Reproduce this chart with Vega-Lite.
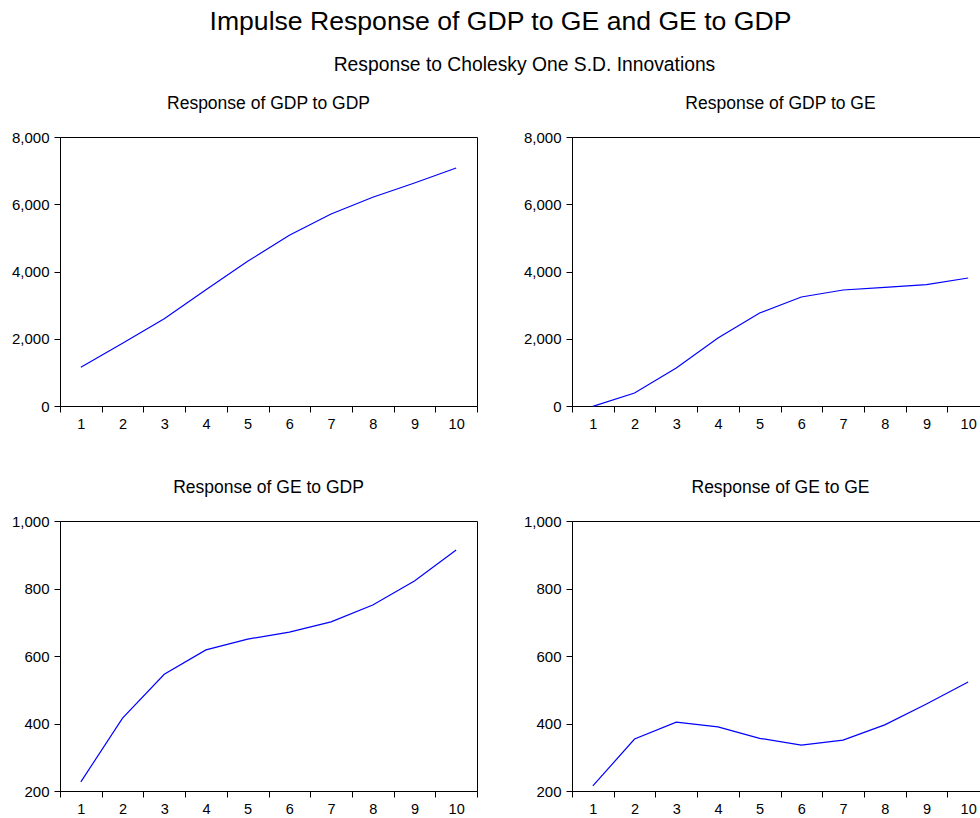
{
  "$schema": "https://vega.github.io/schema/vega-lite/v6.json",
  "padding": {"left": 10, "top": 9, "right": 0, "bottom": 0},
  "background": "white",
  "title": {"text": "Impulse Response of GDP to GE and GE to GDP", "fontSize": 26.6, "font": "Liberation Sans", "fontWeight": "normal", "color": "black", "anchor": "middle", "offset": 20},
  "datasets": {
    "gdp_gdp": [
      {"step": 1, "value": 1150}, {"step": 2, "value": 1865}, {"step": 3, "value": 2596}, {"step": 4, "value": 3459}, {"step": 5, "value": 4303},
      {"step": 6, "value": 5077}, {"step": 7, "value": 5710}, {"step": 8, "value": 6210}, {"step": 9, "value": 6632}, {"step": 10, "value": 7078}
    ],
    "gdp_ge": [
      {"step": 1, "value": -10}, {"step": 2, "value": 387}, {"step": 3, "value": 1130}, {"step": 4, "value": 2022}, {"step": 5, "value": 2766},
      {"step": 6, "value": 3242}, {"step": 7, "value": 3450}, {"step": 8, "value": 3530}, {"step": 9, "value": 3610}, {"step": 10, "value": 3807}
    ],
    "ge_gdp": [
      {"step": 1, "value": 227}, {"step": 2, "value": 416}, {"step": 3, "value": 546}, {"step": 4, "value": 618}, {"step": 5, "value": 650},
      {"step": 6, "value": 671}, {"step": 7, "value": 701}, {"step": 8, "value": 751}, {"step": 9, "value": 822}, {"step": 10, "value": 914}
    ],
    "ge_ge": [
      {"step": 1, "value": 215}, {"step": 2, "value": 354}, {"step": 3, "value": 404}, {"step": 4, "value": 390}, {"step": 5, "value": 356},
      {"step": 6, "value": 336}, {"step": 7, "value": 351}, {"step": 8, "value": 396}, {"step": 9, "value": 458}, {"step": 10, "value": 523}
    ]
  },
  "vconcat": [
    {
      "title": {"text": "Response to Cholesky One S.D. Innovations", "fontSize": 19.3, "font": "Liberation Sans", "fontWeight": "normal", "color": "black", "anchor": "middle", "dx": 24, "offset": 19},
      "columns": 2,
      "bounds": "flush",
      "spacing": {"row": 115, "column": 95},
      "concat": [
        {
          "title": "Response of GDP to GDP",
          "width": 417, "height": 269,
          "data": {"name": "gdp_gdp"},
          "mark": {"type": "line", "color": "#0000ff", "strokeWidth": 1.2},
          "encoding": {
            "x": {"field": "step", "type": "ordinal", "bandPosition": 0.5, "scale": {"type": "band", "paddingInner": 0, "paddingOuter": 0}},
            "y": {"field": "value", "type": "quantitative", "scale": {"domain": [0, 8000], "nice": false, "zero": false}, "axis": {"values": [0, 2000, 4000, 6000, 8000], "format": ",.0f"}}
          }
        },
        {
          "title": "Response of GDP to GE",
          "width": 417, "height": 269,
          "data": {"name": "gdp_ge"},
          "mark": {"type": "line", "color": "#0000ff", "strokeWidth": 1.2},
          "encoding": {
            "x": {"field": "step", "type": "ordinal", "bandPosition": 0.5, "scale": {"type": "band", "paddingInner": 0, "paddingOuter": 0}},
            "y": {"field": "value", "type": "quantitative", "scale": {"domain": [0, 8000], "nice": false, "zero": false}, "axis": {"values": [0, 2000, 4000, 6000, 8000], "format": ",.0f"}}
          }
        },
        {
          "title": "Response of GE to GDP",
          "width": 417, "height": 270,
          "data": {"name": "ge_gdp"},
          "mark": {"type": "line", "color": "#0000ff", "strokeWidth": 1.2},
          "encoding": {
            "x": {"field": "step", "type": "ordinal", "bandPosition": 0.5, "scale": {"type": "band", "paddingInner": 0, "paddingOuter": 0}},
            "y": {"field": "value", "type": "quantitative", "scale": {"domain": [200, 1000], "nice": false, "zero": false}, "axis": {"values": [200, 400, 600, 800, 1000], "format": ",.0f"}}
          }
        },
        {
          "title": "Response of GE to GE",
          "width": 417, "height": 270,
          "data": {"name": "ge_ge"},
          "mark": {"type": "line", "color": "#0000ff", "strokeWidth": 1.2},
          "encoding": {
            "x": {"field": "step", "type": "ordinal", "bandPosition": 0.5, "scale": {"type": "band", "paddingInner": 0, "paddingOuter": 0}},
            "y": {"field": "value", "type": "quantitative", "scale": {"domain": [200, 1000], "nice": false, "zero": false}, "axis": {"values": [200, 400, 600, 800, 1000], "format": ",.0f"}}
          }
        }
      ]
    }
  ],
  "config": {
    "font": "Liberation Sans",
    "view": {"stroke": "black", "strokeWidth": 1},
    "title": {"fontSize": 17.5, "fontWeight": "normal", "font": "Liberation Sans", "color": "black", "anchor": "middle", "offset": 18},
    "axis": {"title": null, "grid": false, "domainColor": "black", "tickColor": "black", "labelColor": "black", "labelFont": "Liberation Sans", "tickSize": 6},
    "axisX": {"tickBand": "extent", "labelAngle": 0, "labelFontSize": 14.5, "labelPadding": 5},
    "axisY": {"labelFontSize": 15, "labelPadding": 5}
  }
}
